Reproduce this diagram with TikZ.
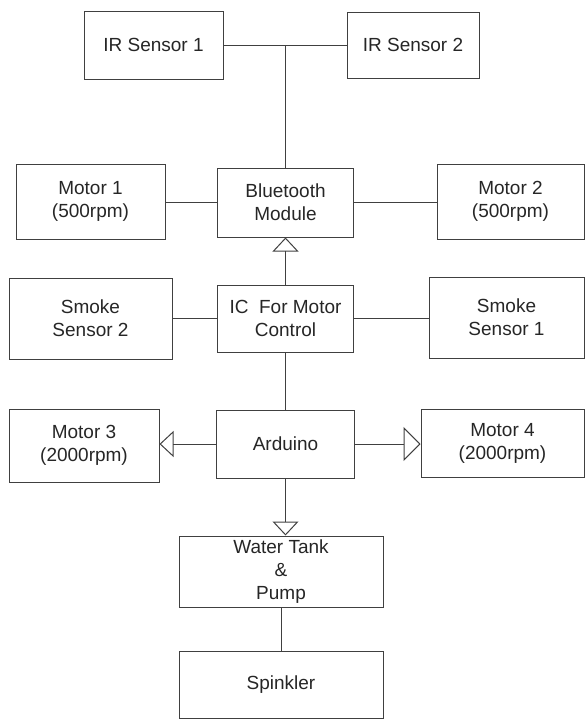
\documentclass[tikz,border=0pt]{standalone}
\usepackage{fontspec}
\setmainfont{Liberation Sans}
\usetikzlibrary{arrows.meta}

\tikzset{
  box/.style={draw=black!75, line width=1pt, inner sep=0pt, align=center, text=black!85,
              font=\fontsize{19}{23}\selectfont},
  link/.style={draw=black!75, line width=1pt},
  feed/.style={link, -{Triangle[open, length=14pt, width=26pt]}},
  bigfeed/.style={link, -{Triangle[open, length=17pt, width=34pt]}}
}

\begin{document}
\begin{tikzpicture}[x=1pt, y=-1pt]
\useasboundingbox (0,0) rectangle (585,720);

\node[box, minimum width=139pt, minimum height=68pt] (ir1) at (153.5,45) {IR Sensor 1};
\node[box, minimum width=132pt, minimum height=66pt] (ir2) at (413,45) {IR Sensor 2};

\node[box, minimum width=149pt, minimum height=75pt] (m1) at (90.5,201.5) {Motor 1\\(500rpm)};
\node[box, minimum width=136pt, minimum height=69pt] (bt) at (285.5,202.5) {Bluetooth\\Module};
\node[box, minimum width=147pt, minimum height=75pt] (m2) at (510.5,201.5) {Motor 2\\(500rpm)};

\node[box, minimum width=163pt, minimum height=81pt] (s2) at (90.5,318.5) {Smoke\\Sensor 2};
\node[box, minimum width=136pt, minimum height=67pt] (ic) at (285.5,318.5) {IC\ \ For Motor\\Control};
\node[box, minimum width=155pt, minimum height=81pt] (s1) at (506.5,317.5) {Smoke\\Sensor 1};

\node[box, minimum width=150pt, minimum height=73pt] (m3) at (84,445.5) {Motor 3\\(2000rpm)};
\node[box, minimum width=138pt, minimum height=68pt] (ard) at (285.5,444) {Arduino};
\node[box, minimum width=163pt, minimum height=68pt] (m4) at (502.5,443) {Motor 4\\(2000rpm)};

\node[box, minimum width=204pt, minimum height=71pt] (wt) at (281,571.5) {Water Tank\\\&\\Pump};
\node[box, minimum width=204pt, minimum height=67pt] (sp) at (281,684.5) {Spinkler};

% sensors to bluetooth
\draw[link] (ir1.east) -- (ir2.west);
\coordinate (irjoin) at (bt.north |- ir1.east);
\draw[link] (irjoin) -- (bt.north);
\draw[link] (m1.east |- bt.west) -- (bt.west);
\draw[link] (bt.east) -- (m2.west |- bt.east);
\draw[feed] (ic.north) -- (bt.south);

\draw[link] (s2.east |- ic.west) -- (ic.west);
\draw[link] (ic.east) -- (s1.west |- ic.east);
\draw[link] (ic.south) -- (ard.north);

\draw[feed] (ard.west) -- (m3.east |- ard.west);
\draw[bigfeed] (ard.east) -- (m4.west |- ard.east);
\draw[feed] (ard.south) -- (ard.south |- wt.north);
\draw[link] (wt.south) -- (sp.north);
\end{tikzpicture}
\end{document}
